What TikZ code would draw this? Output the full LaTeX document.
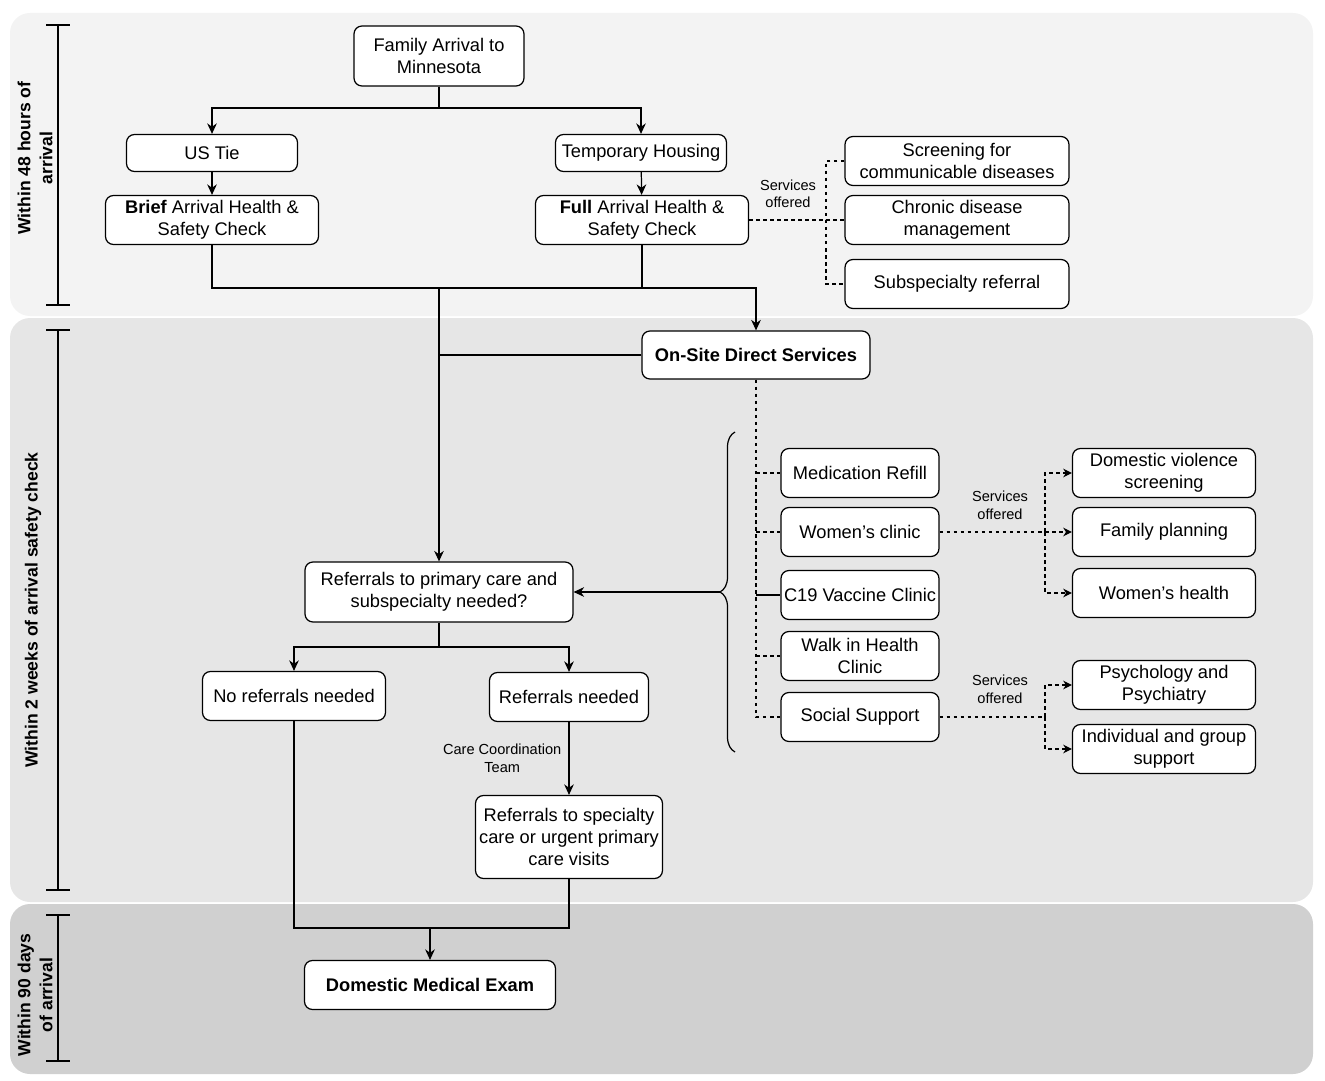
\documentclass[tikz,border=0pt]{standalone}
\usepackage{fontspec}
\setmainfont{Liberation Sans}
\usetikzlibrary{arrows.meta,decorations.pathreplacing}
\definecolor{bandA}{HTML}{F3F3F3}
\definecolor{bandB}{HTML}{E6E6E6}
\definecolor{bandC}{HTML}{D0D0D0}
\tikzset{
  box/.style={draw,rounded corners=4.5pt,fill=white,align=center,inner xsep=1pt,inner ysep=2pt,line width=0.7pt,font=\fontsize{10.4}{12.5}\selectfont},
  tag/.style={align=center,inner sep=1pt,font=\fontsize{8.3}{10}\selectfont},
  flow/.style={line width=0.7pt},
  arr/.style={flow,-{Stealth[length=6pt,width=5.5pt]}},
  dsh/.style={line width=0.6pt,dash pattern=on 2pt off 2pt},
  darr/.style={dsh,-{Stealth[length=5pt,width=5pt]}}
}
\begin{document}
\begin{tikzpicture}[x=0.02cm,y=-0.02cm]
\useasboundingbox (0,0) rectangle (1325,1081);
% bands
\fill[bandA,rounded corners=0.4cm] (10,13) rectangle (1313,316);
\fill[bandB,rounded corners=0.4cm] (10,318) rectangle (1313,902);
\fill[bandC,rounded corners=0.4cm] (10,904) rectangle (1313,1074);
% time scale
\foreach \a/\b in {25/305,330/890,915/1061}
  {\draw[flow] (58,\a) -- (58,\b); \draw[flow] (46,\a) -- (70,\a); \draw[flow] (46,\b) -- (70,\b);}
\node[rotate=90,align=center,font=\bfseries\fontsize{10}{12.5}\selectfont] (t48) at (35,158) {Within 48 hours of\\arrival};
\node[rotate=90,align=center,font=\bfseries\fontsize{10}{12.5}\selectfont] (t2w) at (33,610) {Within 2 weeks of arrival safety check};
\node[rotate=90,align=center,font=\bfseries\fontsize{10}{12.5}\selectfont] (t90) at (35,995) {Within 90 days\\of arrival};
% arrival
\node[box,minimum width=3.4cm,minimum height=1.2cm] (arrival) at (439,56) {Family Arrival to\\Minnesota};
\node[box,minimum width=3.42cm,minimum height=0.74cm] (ustie) at (212,153) {US Tie};
\node[box,minimum width=4.26cm,minimum height=0.98cm] (brief) at (212,220) {\textbf{Brief} Arrival Health \&\\Safety Check};
\node[box,minimum width=3.42cm,minimum height=0.74cm] (temp) at (641,153) {Temporary Housing};
\node[box,minimum width=4.26cm,minimum height=0.98cm] (full) at (642,220) {\textbf{Full} Arrival Health \&\\Safety Check};
\node[box,minimum width=4.48cm,minimum height=0.98cm] (screen) at (957,161) {Screening for\\communicable diseases};
\node[box,minimum width=4.48cm,minimum height=0.98cm] (chronic) at (957,220) {Chronic disease\\management};
\node[box,minimum width=4.48cm,minimum height=0.98cm] (subref) at (957,284) {Subspecialty referral};
\node[tag] (svcA) at (788,194) {Services\\offered};
% on-site
\node[box,minimum width=4.56cm,minimum height=0.96cm,font=\bfseries\fontsize{10.4}{12.5}\selectfont] (onsite) at (756,355) {On-Site Direct Services};
\node[box,minimum width=3.16cm,minimum height=0.98cm] (medref) at (860,473) {Medication Refill};
\node[box,minimum width=3.16cm,minimum height=0.98cm] (wclinic) at (860,532) {Women's clinic};
\node[box,minimum width=3.16cm,minimum height=0.98cm] (cvac) at (860,595) {C19 Vaccine Clinic};
\node[box,minimum width=3.16cm,minimum height=0.98cm] (walkin) at (860,656) {Walk in Health\\Clinic};
\node[box,minimum width=3.16cm,minimum height=0.98cm] (social) at (860,717) {Social Support};
\node[box,minimum width=3.66cm,minimum height=0.98cm] (dviol) at (1164,473) {Domestic violence\\screening};
\node[box,minimum width=3.66cm,minimum height=0.98cm] (fplan) at (1164,532) {Family planning};
\node[box,minimum width=3.66cm,minimum height=0.98cm] (whealth) at (1164,593) {Women's health};
\node[box,minimum width=3.66cm,minimum height=0.98cm] (psych) at (1164,685) {Psychology and\\Psychiatry};
\node[box,minimum width=3.66cm,minimum height=0.98cm] (indiv) at (1164,749) {Individual and group\\support};
\node[tag] (svcB) at (1000,505) {Services\\offered};
\node[tag] (svcC) at (1000,689) {Services\\offered};
% referrals
\node[box,minimum width=5.36cm,minimum height=1.2cm] (refq) at (439,592) {Referrals to primary care and\\subspecialty needed?};
\node[box,minimum width=3.66cm,minimum height=0.98cm] (noref) at (294,696) {No referrals needed};
\node[box,minimum width=3.18cm,minimum height=0.98cm] (refyes) at (569,697) {Referrals needed};
\node[box,minimum width=3.74cm,minimum height=1.66cm] (refspec) at (569,837) {Referrals to specialty\\care or urgent primary\\care visits};
\node[box,minimum width=5.02cm,minimum height=0.98cm,font=\bfseries\fontsize{10.4}{12.5}\selectfont] (dme) at (430,985) {Domestic Medical Exam};
% joints
\coordinate (j1) at (439,108);
\coordinate (j2) at (439,288);
\coordinate (j3) at (439,647);
\coordinate (j4) at (430,928);
\coordinate (hubA) at (826,220);
\coordinate (hubB) at (1045,532);
\coordinate (hubC) at (1045,717);
% solid flow
\draw[flow] (arrival) -- (j1);
\draw[arr] (j1) -| (ustie);
\draw[arr] (j1) -| (temp);
\draw[arr] (ustie) -- (brief);
\draw[arr] (temp) -- (full);
\draw[arr] (brief.south) |- (onsite.north |- j2) -- (onsite.north);
\draw[flow] (full.south) -- (full.south |- j2);
\draw[flow] (onsite.west) -- (onsite.west -| j2);
\draw[arr] (j2) -- (refq);
\draw[flow] (refq) -- (j3);
\draw[arr] (j3) -| (noref);
\draw[arr] (j3) -| (refyes);
\draw[arr] (refyes) -- node[tag,left=3pt] (cct) {Care Coordination\\Team} (refspec);
\draw[flow] (noref.south) |- (refspec.south |- j4) -- (refspec.south);
\draw[arr] (j4) -- (dme);
% brace
\draw[flow] decorate[decoration={brace,amplitude=0.3cm}] {(735,752) -- (735,432)};
\coordinate (brace) at (720,592);
\draw[arr] (brace) -- (refq);
% dotted services
\draw[dsh] (full) -- (chronic);
\draw[dsh] (screen.west) -| (hubA) |- (subref.west);
\draw[dsh] (onsite) |- (social.west);
\foreach \s in {medref,wclinic,walkin}
  \draw[dsh] (onsite.south |- \s.west) -- (\s.west);
\draw[flow] (onsite.south |- cvac.west) -- (cvac.west);
\draw[darr] (wclinic) -- (fplan);
\draw[darr] (hubB) |- (dviol);
\draw[darr] (hubB) |- (whealth);
\draw[dsh] (social) -- (hubC);
\draw[darr] (hubC) |- (psych);
\draw[darr] (hubC) |- (indiv);
\end{tikzpicture}
\end{document}
